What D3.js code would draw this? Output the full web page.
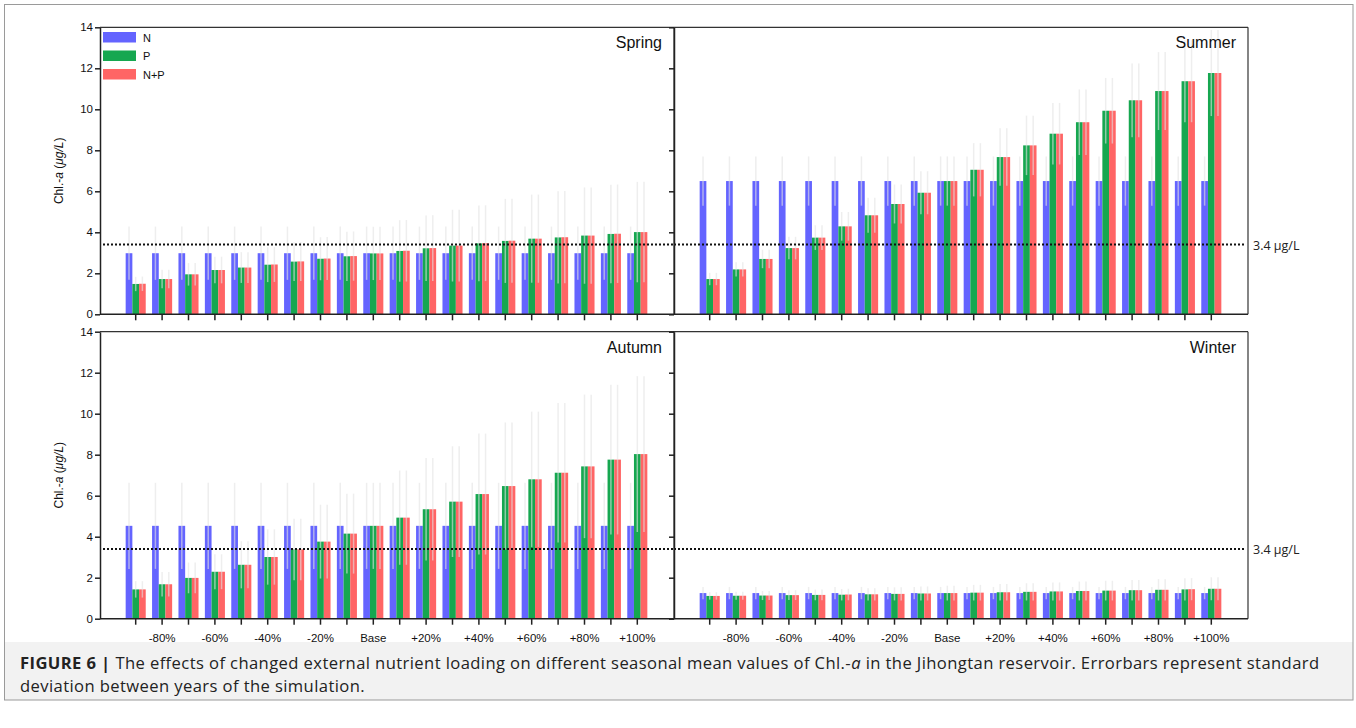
<!DOCTYPE html>
<html>
<head>
<meta charset="utf-8">
<script src="https://cdn.jsdelivr.net/npm/d3@7"></script>
<style>
  html, body { margin: 0; padding: 0; background: #fff; }
  svg { display: block; }
</style>
</head>
<body>
<svg id="fig" width="1356" height="728"></svg>
<script>
// Loading scenarios (change of external nutrient loading)
const categories = ["-90%","-80%","-70%","-60%","-50%","-40%","-30%","-20%","-10%","Base",
                    "+10%","+20%","+30%","+40%","+50%","+60%","+70%","+80%","+90%","+100%"];
const tickLabels = ["-80%","-60%","-40%","-20%","Base","+20%","+40%","+60%","+80%","+100%"];
const seriesNames = ["N", "P", "N+P"];
const seasons = ["Spring", "Summer", "Autumn", "Winter"];
const yTicks = [0, 2, 4, 6, 8, 10, 12, 14];
const threshold = 3.4;
const thresholdLabel = "3.4 μg/L";

// Seasonal mean Chl.-a (µg/L) and standard deviation between simulated years
const springN   = [2.98,2.98,2.98,2.98,2.98,2.98,2.98,2.98,2.98,2.98,2.98,2.98,2.98,2.98,2.98,2.98,2.98,2.98,2.98,2.98];
const springP   = [1.48,1.72,1.95,2.16,2.28,2.42,2.57,2.71,2.83,2.97,3.09,3.22,3.35,3.46,3.58,3.69,3.75,3.84,3.92,4.01];
const springNP  = [1.49,1.72,1.95,2.16,2.28,2.43,2.58,2.72,2.84,2.97,3.10,3.23,3.35,3.47,3.59,3.69,3.76,3.84,3.93,4.01];
const springNsd = [1.30,1.30,1.30,1.30,1.30,1.30,1.30,1.30,1.30,1.30,1.30,1.30,1.30,1.30,1.30,1.30,1.30,1.30,1.30,1.30];
const springPsd = [0.35,0.45,0.55,0.65,0.75,0.85,0.95,1.05,1.20,1.30,1.50,1.60,1.75,1.85,2.05,2.15,2.25,2.35,2.40,2.45];

const summerN   = [6.50,6.50,6.50,6.50,6.50,6.50,6.50,6.50,6.50,6.50,6.50,6.50,6.50,6.50,6.50,6.50,6.50,6.50,6.50,6.50];
const summerP   = [1.72,2.19,2.70,3.23,3.74,4.29,4.83,5.38,5.93,6.50,7.05,7.67,8.24,8.81,9.37,9.93,10.44,10.89,11.37,11.77];
const summerNP  = [1.72,2.19,2.70,3.23,3.74,4.29,4.83,5.38,5.93,6.50,7.05,7.67,8.24,8.81,9.37,9.93,10.44,10.89,11.37,11.77];
const summerNsd = [1.20,1.20,1.20,1.20,1.20,1.20,1.20,1.20,1.20,1.20,1.20,1.20,1.20,1.20,1.20,1.20,1.20,1.20,1.20,1.20];
const summerPsd = [0.30,0.35,0.45,0.55,0.60,0.70,0.85,0.95,1.05,1.20,1.30,1.40,1.45,1.50,1.60,1.60,1.80,1.90,2.00,2.10];

const autumnN   = [4.53,4.53,4.53,4.53,4.53,4.53,4.53,4.53,4.53,4.53,4.53,4.53,4.53,4.53,4.53,4.53,4.53,4.53,4.53,4.53];
const autumnP   = [1.43,1.68,1.99,2.29,2.63,3.01,3.38,3.76,4.15,4.53,4.93,5.34,5.71,6.08,6.47,6.80,7.12,7.43,7.76,8.03];
const autumnNP  = [1.43,1.68,1.99,2.29,2.63,3.01,3.38,3.76,4.15,4.53,4.93,5.34,5.71,6.08,6.47,6.80,7.12,7.43,7.76,8.03];
const autumnNsd = [2.10,2.10,2.10,2.10,2.10,2.10,2.10,2.10,2.10,2.10,2.10,2.10,2.10,2.10,2.10,2.10,2.10,2.10,2.10,2.10];
const autumnPsd = [0.40,0.60,0.75,0.85,1.15,1.35,1.50,1.80,1.95,2.10,2.30,2.50,2.70,2.95,3.10,3.30,3.40,3.50,3.65,3.80];

const winterN   = [1.25,1.25,1.25,1.25,1.25,1.25,1.25,1.25,1.25,1.25,1.25,1.25,1.25,1.25,1.25,1.25,1.25,1.25,1.25,1.25];
const winterP   = [1.11,1.12,1.13,1.15,1.16,1.17,1.19,1.21,1.23,1.25,1.27,1.29,1.31,1.33,1.35,1.37,1.39,1.41,1.43,1.46];
const winterNP  = [1.11,1.12,1.13,1.15,1.16,1.18,1.19,1.21,1.23,1.25,1.27,1.29,1.31,1.33,1.35,1.37,1.39,1.41,1.44,1.46];
const winterNsd = [0.30,0.30,0.30,0.30,0.30,0.30,0.30,0.30,0.30,0.30,0.30,0.30,0.30,0.30,0.30,0.30,0.30,0.30,0.30,0.30];
const winterPsd = [0.18,0.20,0.22,0.24,0.26,0.28,0.30,0.32,0.34,0.36,0.38,0.40,0.42,0.44,0.46,0.48,0.50,0.52,0.54,0.56];

const seasonValues = {
  Spring: [springN, springP, springNP],
  Summer: [summerN, summerP, summerNP],
  Autumn: [autumnN, autumnP, autumnNP],
  Winter: [winterN, winterP, winterNP]
};
const seasonSd = {
  Spring: [springNsd, springPsd, springPsd],
  Summer: [summerNsd, summerPsd, summerPsd],
  Autumn: [autumnNsd, autumnPsd, autumnPsd],
  Winter: [winterNsd, winterPsd, winterPsd]
};

const colors = ["#6464ff", "#16a750", "#ff6565"];
const axisFont = '"Liberation Sans", Arial, sans-serif';

const svg = d3.select("#fig");
svg.append("rect").attr("width", 1356).attr("height", 728).attr("fill", "#fff");

// Figure frame and caption band
svg.append("rect").attr("x", 4).attr("y", 642).attr("width", 1349).attr("height", 58).attr("fill", "#f2f2f2");
svg.append("rect").attr("x", 4.5).attr("y", 4.5).attr("width", 1348.5).attr("height", 695.5)
  .attr("fill", "none").attr("stroke", "#9a9a9a").attr("stroke-width", 1);

// Panel geometry
const PW = 574, PH = 287;
const panels = [
  { season: "Spring", x0: 100, y0: 27.3, left: true,  right: false, bottomLabels: false },
  { season: "Summer", x0: 674, y0: 27.3, left: false, right: true,  bottomLabels: false },
  { season: "Autumn", x0: 100, y0: 331.7, left: true,  right: false, bottomLabels: true },
  { season: "Winter", x0: 674, y0: 331.7, left: false, right: true,  bottomLabels: true }
];

const x = d3.scaleBand().domain(categories).range([22.5, 550.5]).paddingInner(0.24).paddingOuter(0.12);
const xs = d3.scaleBand().domain(seriesNames).range([0, x.bandwidth()]);
const y = d3.scaleLinear().domain([0, 14]).range([PH, 0]);

panels.forEach(p => {
  const g = svg.append("g").attr("transform", `translate(${p.x0},${p.y0})`);
  const vals = seasonValues[p.season];
  const sds = seasonSd[p.season];

  // bars
  seriesNames.forEach((s, si) => {
    g.append("g").selectAll("rect").data(categories).join("rect")
      .attr("x", c => x(c) + xs(s))
      .attr("y", (c, i) => y(vals[si][i]))
      .attr("width", xs.bandwidth())
      .attr("height", (c, i) => PH - y(vals[si][i]))
      .attr("fill", colors[si]);
  });

  // error bars (very light)
  seriesNames.forEach((s, si) => {
    g.append("g").selectAll("line").data(categories).join("line")
      .attr("x1", c => x(c) + xs(s) + xs.bandwidth() / 2)
      .attr("x2", c => x(c) + xs(s) + xs.bandwidth() / 2)
      .attr("y1", (c, i) => y(Math.max(0, vals[si][i] - sds[si][i])))
      .attr("y2", (c, i) => y(Math.min(14, vals[si][i] + sds[si][i])))
      .attr("stroke", "#e2e2e2").attr("stroke-opacity", 0.6).attr("stroke-width", 1.5);
  });

  // threshold line
  g.append("line")
    .attr("x1", p.left ? 3 : 0).attr("x2", p.left ? PW : PW - 2)
    .attr("y1", y(threshold)).attr("y2", y(threshold))
    .attr("stroke", "#111").attr("stroke-width", 2).attr("stroke-dasharray", "2,2");
  if (p.right) {
    g.append("text").attr("x", PW + 5).attr("y", y(threshold) + 5)
      .attr("font-family", '"Open Sans", "Noto Sans", sans-serif').attr("font-size", 12.5)
      .attr("fill", "#222").text(thresholdLabel);
  }

  // axes
  const xAxis = d3.axisBottom(x).tickSize(6).tickSizeOuter(0)
    .tickFormat(c => (p.bottomLabels && tickLabels.includes(c)) ? c : "");
  const xg = g.append("g").attr("transform", `translate(0,${PH})`).call(xAxis)
    .attr("font-family", axisFont);
  xg.select(".domain").attr("d", `M0,0H${PW}`);
  xg.selectAll("line").attr("stroke", "#222").attr("stroke-width", 1.5);
  xg.selectAll(".domain").attr("stroke", "#222").attr("stroke-width", 1.5);
  xg.selectAll("text").attr("font-size", 11.5).attr("fill", "#111").attr("dy", "1.25em");

  const yAxis = d3.axisLeft(y).tickValues(yTicks).tickSize(5).tickSizeOuter(0)
    .tickFormat(p.left ? d3.format("d") : () => "");
  const yg = g.append("g").call(yAxis).attr("font-family", axisFont);
  yg.selectAll("line").attr("stroke", "#222").attr("stroke-width", 1.5);
  yg.selectAll(".domain").attr("stroke", "#222").attr("stroke-width", 1.5);
  yg.selectAll("text").attr("font-size", 11.5).attr("fill", "#111").attr("x", -7);

  // box edges (top and right)
  g.append("line").attr("x1", 0).attr("x2", PW).attr("y1", 0).attr("y2", 0)
    .attr("stroke", "#333").attr("stroke-width", 1.2);
  g.append("line").attr("x1", PW).attr("x2", PW).attr("y1", 0).attr("y2", PH)
    .attr("stroke", "#333").attr("stroke-width", 1.2);

  // season title
  g.append("text").attr("x", PW - 12).attr("y", 21).attr("text-anchor", "end")
    .attr("font-family", axisFont).attr("font-size", 16).attr("fill", "#111").text(p.season);

  // y-axis title
  if (p.left) {
    const t = g.append("text")
      .attr("transform", `translate(-37,${PH / 2}) rotate(-90)`)
      .attr("text-anchor", "middle").attr("font-family", axisFont).attr("font-size", 12).attr("fill", "#111");
    t.append("tspan").text("Chl.-");
    t.append("tspan").attr("font-style", "italic").text("a");
    t.append("tspan").text(" (");
    t.append("tspan").attr("font-style", "italic").text("μg/L");
    t.append("tspan").text(")");
  }
});

// legend
const legend = svg.append("g").attr("transform", "translate(103,32)");
seriesNames.forEach((s, i) => {
  legend.append("rect").attr("x", 0).attr("y", i * 18.5).attr("width", 33).attr("height", 10.5).attr("fill", colors[i]);
  legend.append("text").attr("x", 40).attr("y", i * 18.5 + 9.5)
    .attr("font-family", axisFont).attr("font-size", 11).attr("fill", "#111").text(s);
});

// caption
const capFont = '"Open Sans", "Noto Sans", sans-serif';
const cap1 = svg.append("text").attr("x", 20).attr("y", 669)
  .attr("font-family", capFont).attr("font-size", 16.6).attr("letter-spacing", 0.4).attr("fill", "#222");
cap1.append("tspan").attr("font-weight", "bold").text("FIGURE 6 | ");
cap1.append("tspan").text("The effects of changed external nutrient loading on different seasonal mean values of Chl.-");
cap1.append("tspan").attr("font-style", "italic").text("a");
cap1.append("tspan").text(" in the Jihongtan reservoir. Errorbars represent standard");
svg.append("text").attr("x", 20).attr("y", 692)
  .attr("font-family", capFont).attr("font-size", 16.6).attr("letter-spacing", 0.4).attr("fill", "#222")
  .text("deviation between years of the simulation.");
</script>
</body>
</html>
